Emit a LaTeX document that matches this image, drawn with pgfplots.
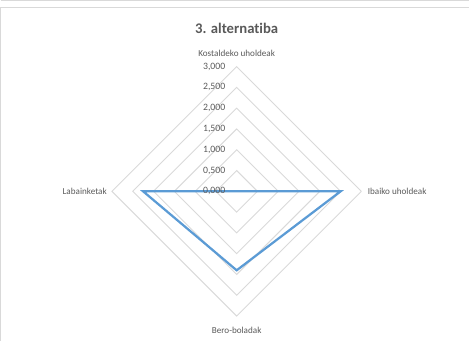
\documentclass[border=0pt]{standalone}
\usepackage{pgfplots}
\pgfplotsset{compat=1.18}
\usepackage{fontspec}
\setmainfont{Carlito}[Ligatures=CommonOff]
\definecolor{txt}{HTML}{595959}
\definecolor{grd}{HTML}{D9D9D9}
\definecolor{ser}{HTML}{5B9BD5}
\begin{document}
\begin{tikzpicture}
\begin{axis}[
  width=470pt, height=334pt, scale only axis,
  xmin=-5.951, xmax=5.512, ymin=-3.537, ymax=4.610,
  axis lines=none, clip=false,
  ticks=none,
]
% frame
\draw[grd, line width=1pt] (axis cs:-5.68,-3.6) -- (axis cs:-5.68,4.415) -- (axis cs:5.6,4.415);
\draw[grd, line width=1pt] (axis cs:-5.68,4.59) -- (axis cs:5.6,4.59);
% grid diamonds
\foreach \r in {0.5,1,1.5,2,2.5,3} {
  \edef\tmp{\noexpand\addplot[grd, line width=0.9pt, forget plot] coordinates {(\r,0) (0,\r) (-\r,0) (0,-\r) (\r,0)};}
  \tmp
}
% data
\addplot[ser, line width=2.2pt, data cs=polar, line join=miter] coordinates {(90,0) (0,2.5) (270,1.9) (180,2.25) (90,0)};
% tick labels
\foreach \v/\t in {0/{0,000},0.5/{0,500},1/{1,000},1.5/{1,500},2/{2,000},2.5/{2,500},3/{3,000}} {
  \edef\tmp{\noexpand\node[anchor=east, text=txt, font=\noexpand\fontsize{9.6}{11}\noexpand\selectfont, inner sep=0pt] at (axis cs:-0.27,\v) {\t};}
  \tmp
}
% category labels
\node[text=txt, font=\fontsize{9}{11}\selectfont, inner sep=0pt] at (axis cs:0,3.32) {Kostaldeko uholdeak};
\node[text=txt, font=\fontsize{9}{11}\selectfont, inner sep=0pt, anchor=west] at (axis cs:3.15,0) {Ibaiko uholdeak};
\node[text=txt, font=\fontsize{9}{11}\selectfont, inner sep=0pt, anchor=east] at (axis cs:-3.12,0) {Labainketak};
\node[text=txt, font=\fontsize{9}{11}\selectfont, inner sep=0pt] at (axis cs:0,-3.34) {Bero-boladak};
% title
\node[text=txt, font=\fontsize{14.5}{17}\bfseries, inner sep=0pt] at (axis cs:0,3.93) {3. alternatiba};
\end{axis}
\end{tikzpicture}
\end{document}
